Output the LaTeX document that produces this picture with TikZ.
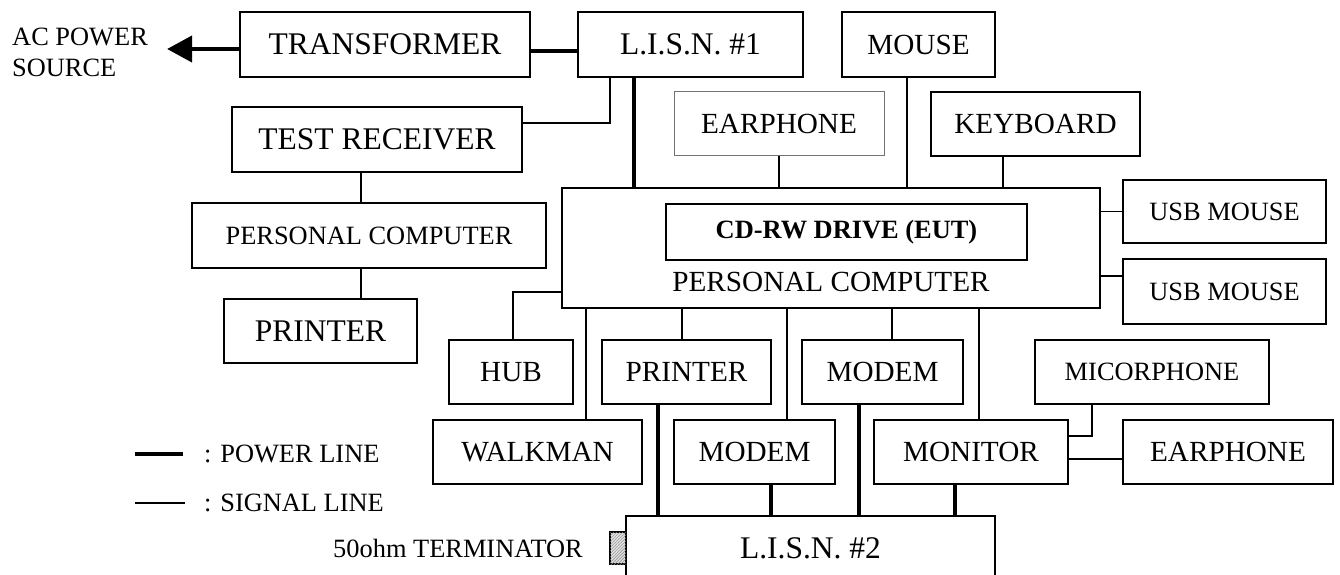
\documentclass[tikz,border=0pt]{standalone}
\usepackage{fontspec}
\setmainfont{Liberation Serif}
\usetikzlibrary{arrows.meta, calc, patterns}

\begin{document}
\begin{tikzpicture}[x=1bp, y=-1bp,
    box/.style={draw, line width=1.8bp, inner sep=0pt, outer sep=0pt, align=center},
    big/.style={font=\fontsize{31.5bp}{34bp}\selectfont},
    mid/.style={font=\fontsize{29.2bp}{32bp}\selectfont},
    sml/.style={font=\fontsize{26.4bp}{31bp}\selectfont},
    sig/.style={line width=1.5bp},
    pwr/.style={line width=4.2bp},
  ]
  \useasboundingbox (0,0) rectangle (1340,575);
  \clip (0,0) rectangle (1340,575);

  \node[sml, align=left, anchor=west, inner sep=0pt] (acsrc) at (12,52) {AC POWER\\SOURCE};
  \node[box, big, minimum width=290bp, minimum height=65bp] (trans)  at (385,44.5)  {TRANSFORMER};
  \node[box, big, minimum width=225bp, minimum height=65bp] (lisn1)  at (690.5,44.5) {L.I.S.N. \#1};
  \node[box, mid, minimum width=153bp, minimum height=65bp] (mouse)  at (918.5,44.5) {MOUSE};
  \node[box, big, minimum width=290bp, minimum height=65bp] (testrx) at (377,139.5) {TEST RECEIVER};
  \node[box, mid, minimum width=210bp, minimum height=64bp, draw=black!55, line width=1bp] (earA) at (779,124) {EARPHONE};
  \node[box, mid, minimum width=209bp, minimum height=64bp] (keyb)   at (1035.5,124) {KEYBOARD};
  \node[box, sml, minimum width=354bp, minimum height=65bp] (pcL)    at (369,235.5) {PERSONAL COMPUTER};
  \node[box, big, minimum width=193bp, minimum height=64bp] (prtL)   at (320.5,331) {PRINTER};
  \node[box, minimum width=538bp, minimum height=120bp] (pc) at (831,248) {};
  \node[mid, anchor=south, inner sep=0pt] (pclabel) at ([yshift=16.5bp]pc.south) {PERSONAL COMPUTER};
  \node[box, sml, minimum width=361bp, minimum height=56bp] (cdrw)   at (846.5,232) {\bfseries CD-RW DRIVE (EUT)};
  \node[box, sml, minimum width=203bp, minimum height=63bp] (usb1)   at (1224.5,211.5) {USB MOUSE};
  \node[box, sml, minimum width=203bp, minimum height=65bp] (usb2)   at (1224.5,291.5) {USB MOUSE};
  \node[box, mid, minimum width=124bp, minimum height=64bp] (hub)    at (511,372) {HUB};
  \node[box, mid, minimum width=169bp, minimum height=64bp] (prtM)   at (686.5,372) {PRINTER};
  \node[box, mid, minimum width=161bp, minimum height=64bp] (modA)   at (882.5,372) {MODEM};
  \node[box, sml, minimum width=234bp, minimum height=64bp] (mic)    at (1152,372) {MICORPHONE};
  \node[box, mid, minimum width=209bp, minimum height=64bp] (walk)   at (537.5,452) {WALKMAN};
  \node[box, mid, minimum width=161bp, minimum height=64bp] (modB)   at (754.5,452) {MODEM};
  \node[box, mid, minimum width=194bp, minimum height=64bp] (mon)    at (971,452) {MONITOR};
  \node[box, mid, minimum width=210bp, minimum height=64bp] (earB)   at (1228,452) {EARPHONE};
  \node[box, big, minimum width=369bp, minimum height=64bp] (lisn2)  at (810.5,548) {L.I.S.N. \#2};
  \node[draw, line width=1.2bp, inner sep=0pt, outer sep=0pt, minimum width=16bp, minimum height=32bp,
        fill=black!12, postaction={pattern=north east lines, pattern color=black!45}] (term) at (618,548) {};
  \node[sml, anchor=east, inner sep=0pt] (termtext) at ([xshift=-27bp]term.west) {50ohm TERMINATOR};
  \node[sml, anchor=west, inner sep=0pt] (pwrkey) at (204,454) {: POWER LINE};
  \node[sml, anchor=west, inner sep=0pt] (sigkey) at (204,503) {: SIGNAL LINE};

  \draw[pwr, -{Triangle[length=25bp, width=26bp]}] ([yshift=-4.5bp]trans.west) -- ([xshift=19bp,yshift=-4.5bp]trans.west -| acsrc.east);
  \draw[pwr] ([yshift=-6.5bp]trans.east) -- ([yshift=-6.5bp]lisn1.west);
  \draw[sig] ([yshift=16.5bp]testrx.east) -| ([xshift=-80.5bp]lisn1.south);
  \draw[pwr] ([xshift=-56.5bp]lisn1.south) -- ([xshift=-56.5bp]lisn1.south |- pc.north);
  \draw[sig] ([xshift=-16bp]testrx.south) -- ([xshift=-16bp]testrx.south |- pcL.north);
  \draw[sig] ([xshift=-8bp]pcL.south) -- ([xshift=-8bp]pcL.south |- prtL.north);
  \draw[sig] (earA.south) -- (earA.south |- pc.north);
  \draw[sig] ([xshift=-11.5bp]mouse.south) -- ([xshift=-11.5bp]mouse.south |- pc.north);
  \draw[sig] ([xshift=-32.5bp]keyb.south) -- ([xshift=-32.5bp]keyb.south |- pc.north);
  \draw[sig] (usb1.west -| pc.east) -- (usb1.west);
  \draw[sig] ([yshift=15.5bp]usb2.west -| pc.east) -- ([yshift=15.5bp]usb2.west);
  \draw[sig] ([yshift=-44bp]pc.west) -| ([xshift=2bp]hub.north);
  \draw[sig] ([xshift=48.5bp]walk.north) -- ([xshift=48.5bp]walk.north |- pc.south);
  \draw[sig] ([xshift=-4.5bp]prtM.north) -- ([xshift=-4.5bp]prtM.north |- pc.south);
  \draw[sig] ([xshift=32.5bp]modB.north) -- ([xshift=32.5bp]modB.north |- pc.south);
  \draw[sig] ([xshift=9.5bp]modA.north) -- ([xshift=9.5bp]modA.north |- pc.south);
  \draw[sig] ([xshift=8bp]mon.north) -- ([xshift=8bp]mon.north |- pc.south);
  \draw[sig] ([xshift=-60bp]mic.south) |- ([yshift=16bp]mon.east);
  \draw[sig] ([yshift=-7bp]mon.east) -- ([yshift=-7bp]earB.west);
  \draw[pwr] ([xshift=-28.5bp]prtM.south) -- ([xshift=-28.5bp]prtM.south |- lisn2.north);
  \draw[pwr] ([xshift=16.5bp]modB.south) -- ([xshift=16.5bp]modB.south |- lisn2.north);
  \draw[pwr] ([xshift=-23.5bp]modA.south) -- ([xshift=-23.5bp]modA.south |- lisn2.north);
  \draw[pwr] ([xshift=-16bp]mon.south) -- ([xshift=-16bp]mon.south |- lisn2.north);
  \draw[pwr] ([xshift=-69bp]pwrkey.west) -- ([xshift=-21bp]pwrkey.west);
  \draw[sig] ([xshift=-69bp]sigkey.west) -- ([xshift=-19bp]sigkey.west);
\end{tikzpicture}
\end{document}
